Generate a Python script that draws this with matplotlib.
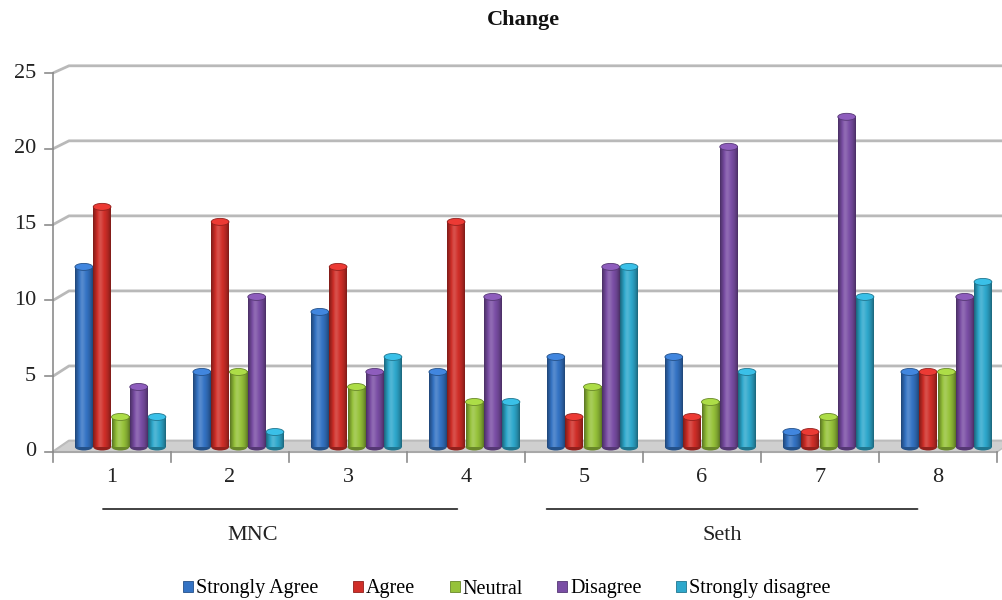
import numpy as np
import matplotlib
matplotlib.use("Agg")
import matplotlib.pyplot as plt
from matplotlib.patches import Ellipse, Polygon, Patch

plt.rcParams['font.family'] = ['Liberation Serif', 'DejaVu Serif']

# survey responses per item
items = ['1', '2', '3', '4', '5', '6', '7', '8']
series = ['Strongly Agree', 'Agree', 'Neutral', 'Disagree', 'Strongly disagree']
strongly_agree = [12, 5, 9, 5, 6, 6, 1, 5]
agree = [16, 15, 12, 15, 2, 2, 1, 5]
neutral = [2, 5, 4, 3, 4, 3, 2, 5]
disagree = [4, 10, 5, 10, 12, 20, 22, 10]
strongly_disagree = [2, 1, 6, 3, 12, 5, 10, 11]
groups = ['MNC', 'Seth']

values = [strongly_agree, agree, neutral, disagree, strongly_disagree]
colors = ['#3473c4', '#d02e28', '#96c23a', '#7a4ea5', '#2ea8cc']

W, H = 1003, 600
fig = plt.figure(figsize=(W / 100, H / 100), dpi=100)
# front plane of the 3d box: x 53..997 px, y 452 (0) .. 73 (25) px
ax = fig.add_axes([53 / W, (H - 452) / H, 944 / W, 379 / H])
ax.set_xlim(0, 8)
ax.set_ylim(0, 25)
ax.axis('off')

# depth offset of the back wall, in data units
bdx, bdy = 16 / 118, 11 / 15.16
grid_c = '#b9b9b9'

# back wall gridlines with the short diagonal at the left edge
for v in range(0, 26, 5):
    yb = v * 0.99 + bdy
    ax.plot([0, bdx, 8 + bdx], [v, yb, yb], color=grid_c, lw=2.0,
            clip_on=False, zorder=1, solid_capstyle='butt')

# floor
floor = Polygon([[0, 0], [8, 0], [8 + bdx, bdy], [bdx, bdy]], closed=True,
                facecolor='#cfcfcf', edgecolor='#bcbcbc', lw=1.0,
                clip_on=False, zorder=2)
ax.add_patch(floor)
ax.plot([0, 8], [0, 0], color='#a8a8a8', lw=1.5, clip_on=False, zorder=2)

# value axis
ax.plot([0, 0], [0, 25], color='#8c8c8c', lw=1.2, clip_on=False, zorder=3)
for v in range(0, 26, 5):
    ax.plot([-8 / 118, 0], [v, v], color='#8c8c8c', lw=1.2, clip_on=False, zorder=3)
    ax.text(-17 / 118, v, str(v), ha='right', va='center', fontsize=16,
            color='#222222')

# category axis ticks and labels
for k in range(9):
    ax.plot([k, k], [0, -10 / 15.16], color='#8c8c8c', lw=1.2, clip_on=False, zorder=3)
for k, lab in enumerate(items):
    ax.text(k + 0.5, -25 / 15.16, lab, ha='center', va='center', fontsize=16,
            color='#222222')


def shade(t):
    # brightness profile across a cylinder face
    s = 0.6 + 0.42 * np.sin(np.pi * t) ** 0.8 + 0.18 * np.exp(-((t - 0.38) / 0.16) ** 2)
    return s


def cylinder_rgb(hexcol, n=40):
    base = np.array(matplotlib.colors.to_rgb(hexcol))
    t = np.linspace(0, 1, n)
    s = shade(t)[:, None]
    rgb = np.where(s <= 1, base * s, base + (1 - base) * (s - 1) * 0.9)
    return np.clip(rgb, 0, 1)[None, :, :]


bar_w = 0.155
x_off = 0.186
base_y = 5 / 15.16
cap_h = 7 / 15.16

for j, (vals, col) in enumerate(zip(values, colors)):
    img = cylinder_rgb(col)
    top_col = np.clip(np.array(matplotlib.colors.to_rgb(col)) * 1.1 + 0.03, 0, 1)
    edge_col = np.array(matplotlib.colors.to_rgb(col)) * 0.7
    for i, v in enumerate(vals):
        x0 = i + x_off + j * bar_w
        top = base_y + v * 0.99
        z = 4 + j * 0.01
        ax.imshow(img, extent=(x0, x0 + bar_w * 0.97, base_y, top), aspect='auto',
                  interpolation='bilinear', zorder=z, clip_on=False)
        ax.add_patch(Ellipse((x0 + bar_w * 0.485, base_y), bar_w * 0.97, cap_h,
                             facecolor=edge_col, edgecolor='none', zorder=z - 0.005,
                             clip_on=False))
        ax.add_patch(Ellipse((x0 + bar_w * 0.485, top), bar_w * 0.97, cap_h,
                             facecolor=top_col, edgecolor=edge_col, lw=0.6,
                             zorder=z + 0.001, clip_on=False))

ax.set_xlim(0, 8)
ax.set_ylim(0, 25)

# grouping brackets below the category labels
group_lines = [(0.40, 3.45), (4.16, 7.35)]
group_label_x = [1.69, 5.67]
for (a, b), gx, name in zip(group_lines, group_label_x, groups):
    ax.annotate('', xy=(a, H - 509), xytext=(b, H - 509),
                xycoords=('data', 'figure pixels'), textcoords=('data', 'figure pixels'),
                arrowprops=dict(arrowstyle='-', color='#333333', lw=1.3))
    ax.annotate(name, xy=(gx, H - 535), xycoords=('data', 'figure pixels'),
                ha='center', va='center', fontsize=16, color='#222222')

fig.text(523 / W, 1 - 20 / H, 'Change', ha='center', va='center',
         fontsize=16, fontweight='bold', color='#111111')

handles = [Patch(facecolor=c, edgecolor=np.array(matplotlib.colors.to_rgb(c)) * 0.7, lw=0.6)
           for c in colors]
fig.legend(handles, series, loc='center', bbox_to_anchor=(507 / W, 11 / H), ncol=5,
           frameon=False, fontsize=14.5, handlelength=0.5, handleheight=0.5,
           handletextpad=0.15, columnspacing=1.7, borderaxespad=0)

fig.savefig('out.png', dpi=100)
